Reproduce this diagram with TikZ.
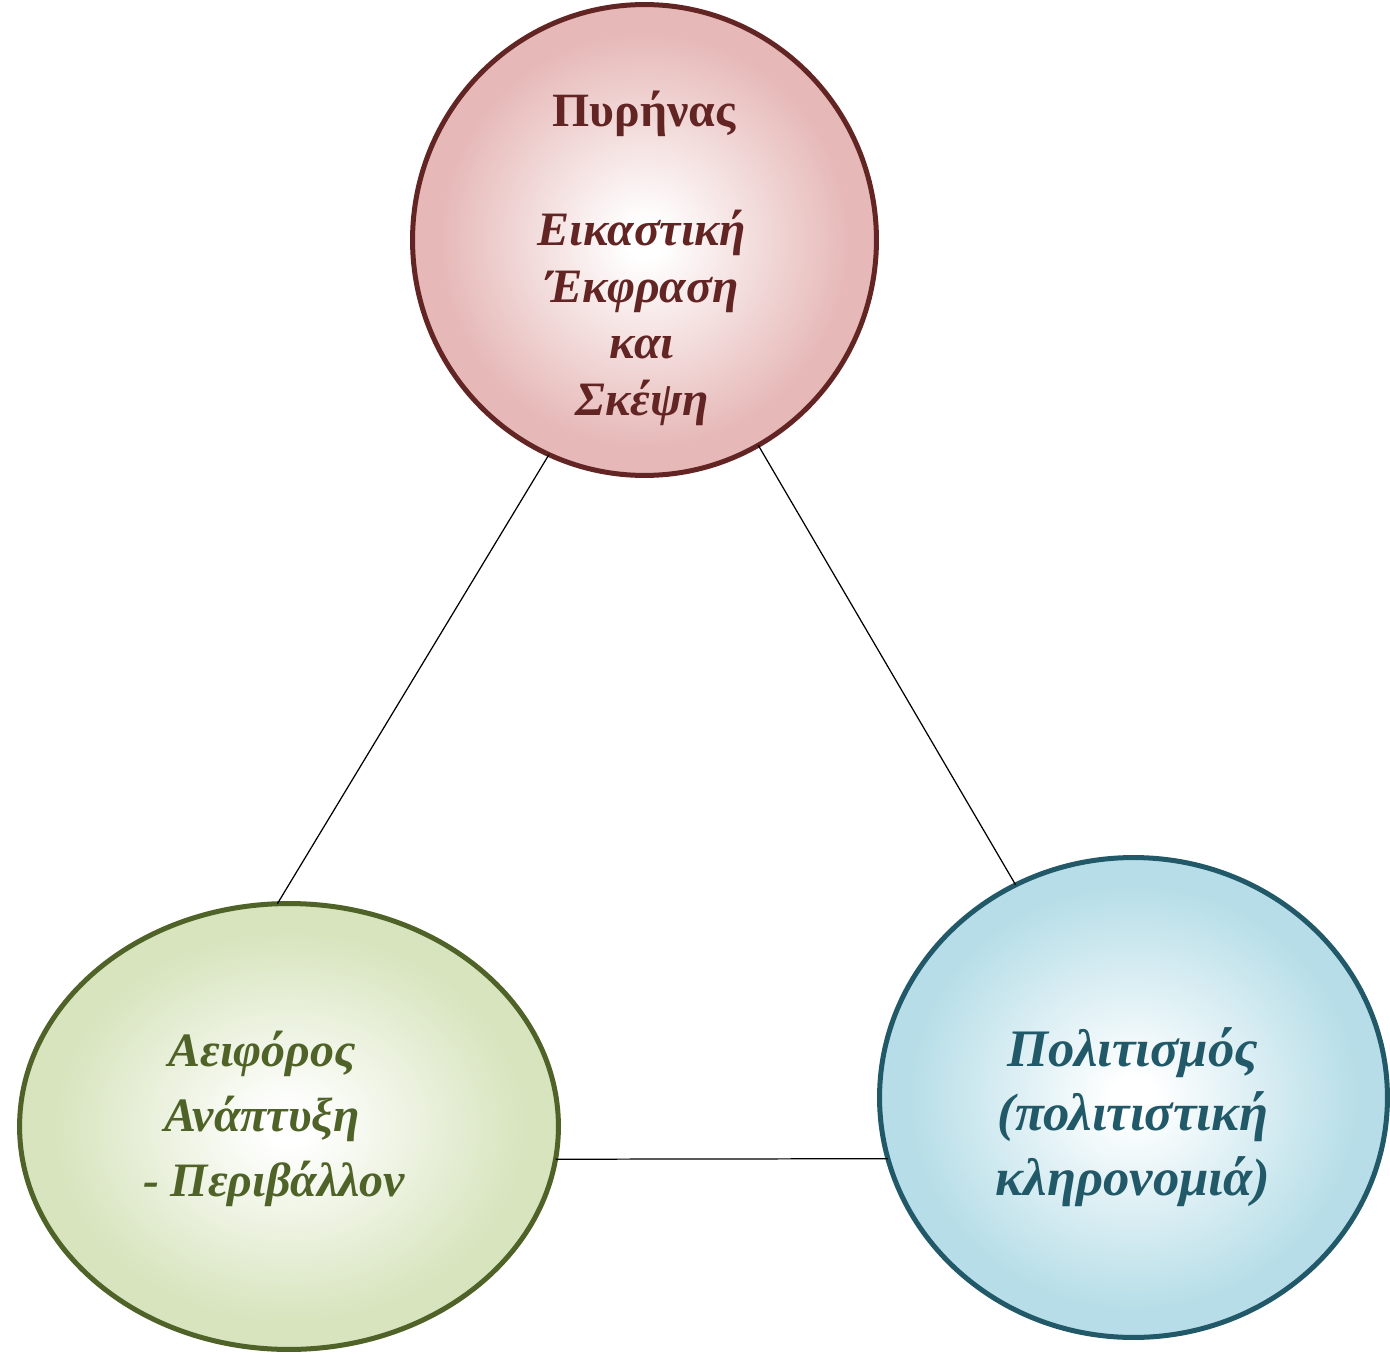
\documentclass[tikz,border=0pt]{standalone}
\usepackage{fontspec}
\setmainfont{Liberation Serif}
\usetikzlibrary{
shapes,
positioning
}
\definecolor{coreline}{HTML}{632523}
\definecolor{corefill}{HTML}{E6B9B8}
\definecolor{envline}{HTML}{4F6228}
\definecolor{envfill}{HTML}{D7E4BD}
\definecolor{cultline}{HTML}{215968}
\definecolor{cultfill}{HTML}{B7DEE8}
\pgfdeclareradialshading{coreshade}{\pgfpointorigin}{color(0bp)=(white); color(2bp)=(white); color(22bp)=(corefill); color(50bp)=(corefill)}
\pgfdeclareradialshading{envshade}{\pgfpointorigin}{color(0bp)=(white); color(2bp)=(white); color(22bp)=(envfill); color(50bp)=(envfill)}
\pgfdeclareradialshading{cultshade}{\pgfpointorigin}{color(0bp)=(white); color(2bp)=(white); color(22bp)=(cultfill); color(50bp)=(cultfill)}
\tikzset{
bubble/.style={ellipse,draw,line width=2.85pt,inner sep=0pt,outer sep=0pt},
bubbletext/.style={align=center,font=\fontsize{27.3}{36.8}\selectfont\bfseries\itshape},
link/.style={line width=0.7pt}
}

\begin{document}
\begin{tikzpicture}[x=0.02cm,y=-0.02cm]
		\useasboundingbox (0,0) rectangle (1390,1355);
		\node[bubble,draw=coreline,shading=coreshade,minimum width=9.28cm,minimum height=9.42cm] at (644.5,240) (core) {};
		\node[bubble,draw=envline,shading=envshade,minimum width=10.78cm,minimum height=8.92cm] at (289,1126.5) (env) {};
		\node[bubble,draw=cultline,shading=cultshade,minimum width=10.16cm,minimum height=9.6cm] at (1133.5,1097.5) (cult) {};
		
		\node[anchor=base,text=coreline,font=\fontsize{27.2}{32}\selectfont\bfseries] at (644,127) (corehead) {Πυρήνας};
		\node[bubbletext,text=coreline,font=\fontsize{27.3}{32.3}\selectfont\bfseries\itshape] at (642,318) (corename) {Εικαστική\\Έκφραση\\και\\Σκέψη};
		\node[bubbletext,text=envline] at (262,1119) (envname) {Αειφόρος\\Ανάπτυξη\\\hspace*{0.5em}- Περιβάλλον};
		\node[bubbletext,text=cultline,font=\fontsize{30}{36.8}\selectfont\bfseries\itshape] at (1133,1117) (cultname) {Πολιτισμός\\(πολιτιστική\\κληρονομιά)};
		
		\draw[link] (core.246) -- (env.93.5);
		\draw[link] (core.299) -- (cult.119.7);
		\draw[link] (env.353.5) -- (cult.194.2);
\end{tikzpicture}
\end{document}
